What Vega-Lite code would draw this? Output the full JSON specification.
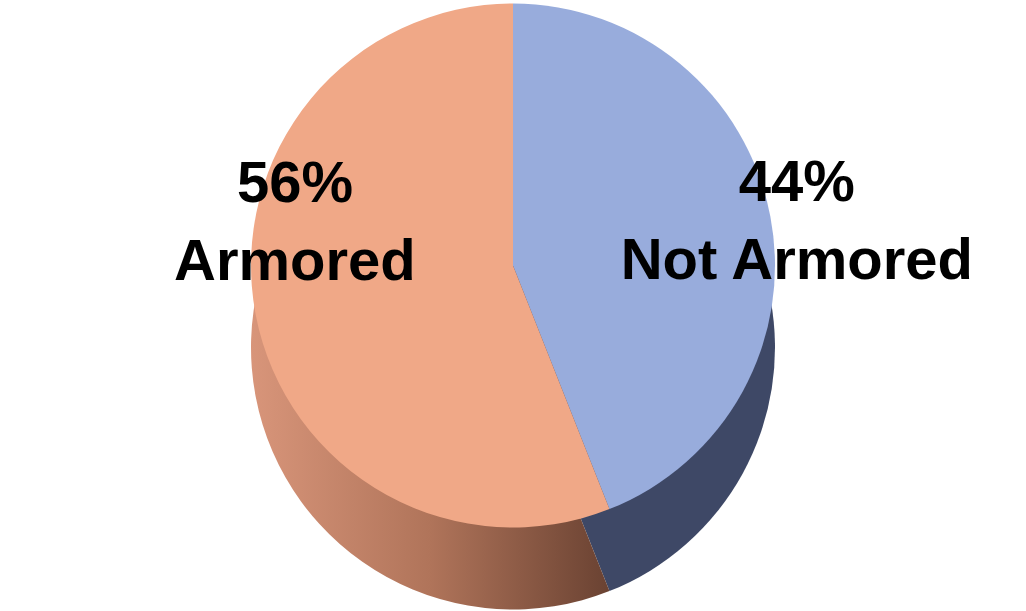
{
  "$schema": "https://vega.github.io/schema/vega-lite/v6.json",
  "width": 1026,
  "height": 611,
  "autosize": {"type": "fit", "contains": "padding"},
  "padding": 0,
  "background": "white",
  "config": {"view": {"stroke": null}},
  "data": {
    "values": [
      {"cat": "Not Armored", "pct": 44, "label": "44%\nNot Armored", "ord": 1},
      {"cat": "Armored", "pct": 56, "label": "56%\nArmored", "ord": 2}
    ]
  },
  "encoding": {
    "theta": {"field": "pct", "type": "quantitative", "stack": true},
    "order": {"field": "ord", "type": "quantitative"}
  },
  "layer": [
    {
      "mark": {"type": "arc", "outerRadius": 262, "yOffset": 42},
      "encoding": {
        "fill": {
          "condition": {
            "test": "datum.cat === 'Armored'",
            "value": {
              "gradient": "linear",
              "x1": 0, "y1": 0, "x2": 1, "y2": 0,
              "stops": [
                {"offset": 0, "color": "#d8957a"},
                {"offset": 0.5, "color": "#b0745a"},
                {"offset": 1, "color": "#6a4232"}
              ]
            }
          },
          "value": "#3e4866"
        }
      }
    },
    {
      "mark": {"type": "arc", "outerRadius": 262, "yOffset": -40},
      "encoding": {
        "fill": {
          "condition": {"test": "datum.cat === 'Armored'", "value": "#f0a887"},
          "value": "#98acdc"
        }
      }
    },
    {
      "mark": {
        "type": "text",
        "radius": 222,
        "yOffset": -162,
        "lineBreak": "\n",
        "lineHeight": 78,
        "align": "center",
        "baseline": "middle",
        "font": "Liberation Sans, Arial, sans-serif",
        "fontWeight": "bold",
        "fontSize": 58,
        "fill": "black"
      },
      "encoding": {
        "text": {"condition": {"test": "datum.cat === 'Armored'", "field": "label"}, "value": ""}
      }
    },
    {
      "mark": {
        "type": "text",
        "radius": 289,
        "yOffset": -67,
        "lineBreak": "\n",
        "lineHeight": 78,
        "align": "center",
        "baseline": "middle",
        "font": "Liberation Sans, Arial, sans-serif",
        "fontWeight": "bold",
        "fontSize": 58,
        "fill": "black"
      },
      "encoding": {
        "text": {"condition": {"test": "datum.cat === 'Not Armored'", "field": "label"}, "value": ""}
      }
    }
  ]
}
